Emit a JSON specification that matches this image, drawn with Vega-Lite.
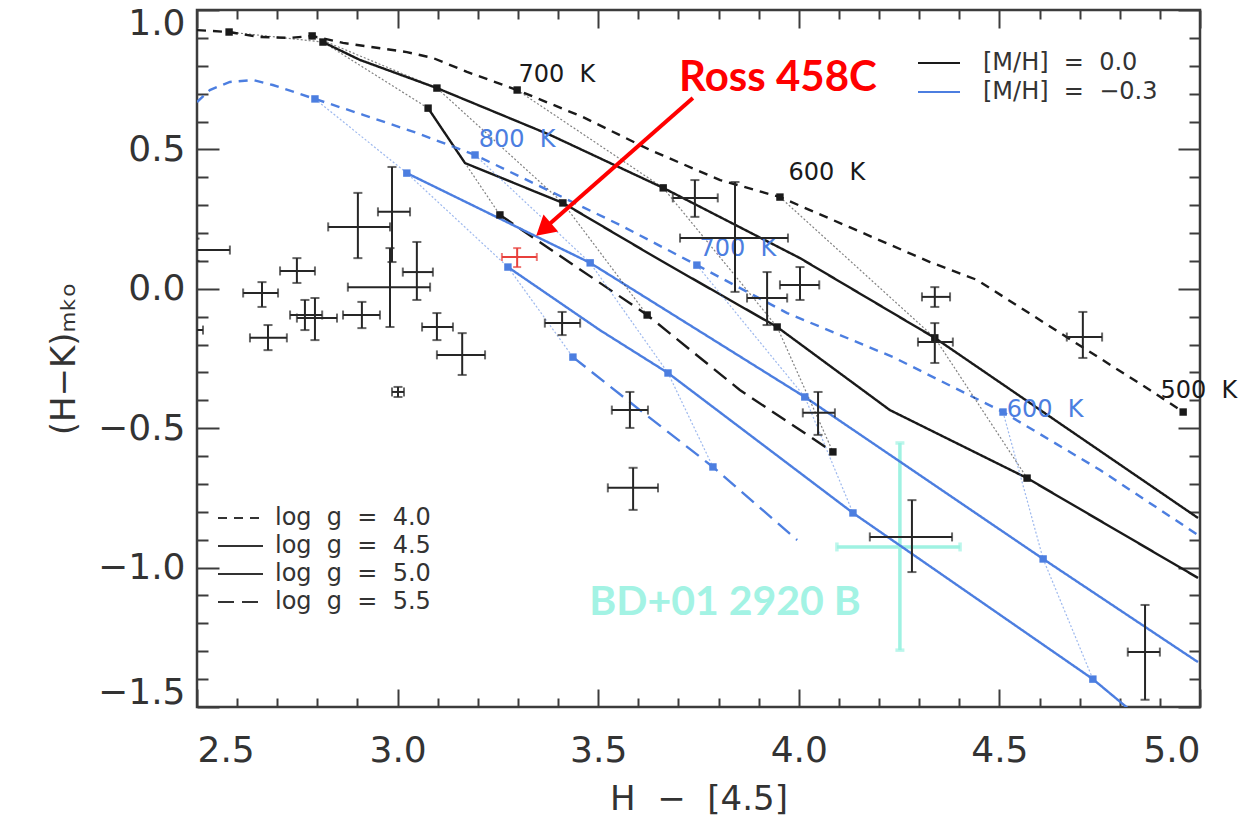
{
  "$schema": "https://vega.github.io/schema/vega-lite/v6.json",
  "width": 1003,
  "height": 697,
  "autosize": {"type": "none"},
  "padding": {"left": 197, "top": 10, "right": 47, "bottom": 118},
  "background": "white",
  "config": {
    "view": {"stroke": "#3c3c3c", "strokeWidth": 2.5},
    "axis": {"grid": false, "domain": false, "tickColor": "#3c3c3c", "tickWidth": 2, "labelFont": "DejaVu Sans", "titleFont": "DejaVu Sans", "labelColor": "#333", "titleColor": "#333", "titleFontWeight": "normal"}
  },
  "resolve": {"axis": {"x": "independent", "y": "independent"}},
  "datasets": {
    "curves": [
      {"mh": "0.0", "g": "4.0", "x": 2.5, "y": 0.928},
      {"mh": "0.0", "g": "4.0", "x": 2.58, "y": 0.921, "T": 900},
      {"mh": "0.0", "g": "4.0", "x": 2.657, "y": 0.903},
      {"mh": "0.0", "g": "4.0", "x": 2.732, "y": 0.9},
      {"mh": "0.0", "g": "4.0", "x": 2.787, "y": 0.907, "T": 800},
      {"mh": "0.0", "g": "4.0", "x": 2.864, "y": 0.882},
      {"mh": "0.0", "g": "4.0", "x": 3.023, "y": 0.849},
      {"mh": "0.0", "g": "4.0", "x": 3.088, "y": 0.828},
      {"mh": "0.0", "g": "4.0", "x": 3.173, "y": 0.778},
      {"mh": "0.0", "g": "4.0", "x": 3.298, "y": 0.713, "T": 700},
      {"mh": "0.0", "g": "4.0", "x": 3.462, "y": 0.616},
      {"mh": "0.0", "g": "4.0", "x": 3.629, "y": 0.498},
      {"mh": "0.0", "g": "4.0", "x": 3.804, "y": 0.39},
      {"mh": "0.0", "g": "4.0", "x": 3.953, "y": 0.329, "T": 600},
      {"mh": "0.0", "g": "4.0", "x": 4.128, "y": 0.22},
      {"mh": "0.0", "g": "4.0", "x": 4.327, "y": 0.096},
      {"mh": "0.0", "g": "4.0", "x": 4.444, "y": 0.032},
      {"mh": "0.0", "g": "4.0", "x": 4.651, "y": -0.158},
      {"mh": "0.0", "g": "4.0", "x": 4.875, "y": -0.363},
      {"mh": "0.0", "g": "4.0", "x": 4.958, "y": -0.442, "T": 500},
      {"mh": "0.0", "g": "4.5", "x": 2.814, "y": 0.885, "T": 900},
      {"mh": "0.0", "g": "4.5", "x": 2.906, "y": 0.821},
      {"mh": "0.0", "g": "4.5", "x": 3.098, "y": 0.72, "T": 800},
      {"mh": "0.0", "g": "4.5", "x": 3.38, "y": 0.552},
      {"mh": "0.0", "g": "4.5", "x": 3.662, "y": 0.362, "T": 700},
      {"mh": "0.0", "g": "4.5", "x": 4.003, "y": 0.11},
      {"mh": "0.0", "g": "4.5", "x": 4.339, "y": -0.176, "T": 600},
      {"mh": "0.0", "g": "4.5", "x": 4.995, "y": -0.822},
      {"mh": "0.0", "g": "5.0", "x": 3.076, "y": 0.648, "T": 900},
      {"mh": "0.0", "g": "5.0", "x": 3.168, "y": 0.451},
      {"mh": "0.0", "g": "5.0", "x": 3.412, "y": 0.308, "T": 800},
      {"mh": "0.0", "g": "5.0", "x": 3.654, "y": 0.103},
      {"mh": "0.0", "g": "5.0", "x": 3.946, "y": -0.137, "T": 700},
      {"mh": "0.0", "g": "5.0", "x": 4.227, "y": -0.435},
      {"mh": "0.0", "g": "5.0", "x": 4.569, "y": -0.679, "T": 600},
      {"mh": "0.0", "g": "5.0", "x": 4.995, "y": -1.037},
      {"mh": "0.0", "g": "5.5", "x": 3.255, "y": 0.265, "T": 900},
      {"mh": "0.0", "g": "5.5", "x": 3.622, "y": -0.094, "T": 800},
      {"mh": "0.0", "g": "5.5", "x": 3.853, "y": -0.363},
      {"mh": "0.0", "g": "5.5", "x": 4.085, "y": -0.585, "T": 700},
      {"mh": "−0.3", "g": "4.0", "x": 2.5, "y": 0.67},
      {"mh": "−0.3", "g": "4.0", "x": 2.532, "y": 0.713},
      {"mh": "−0.3", "g": "4.0", "x": 2.582, "y": 0.742},
      {"mh": "−0.3", "g": "4.0", "x": 2.64, "y": 0.749},
      {"mh": "−0.3", "g": "4.0", "x": 2.689, "y": 0.731},
      {"mh": "−0.3", "g": "4.0", "x": 2.794, "y": 0.681, "T": 900},
      {"mh": "−0.3", "g": "4.0", "x": 2.914, "y": 0.624},
      {"mh": "−0.3", "g": "4.0", "x": 3.048, "y": 0.559},
      {"mh": "−0.3", "g": "4.0", "x": 3.193, "y": 0.48, "T": 800},
      {"mh": "−0.3", "g": "4.0", "x": 3.337, "y": 0.38},
      {"mh": "−0.3", "g": "4.0", "x": 3.554, "y": 0.229},
      {"mh": "−0.3", "g": "4.0", "x": 3.746, "y": 0.085, "T": 700},
      {"mh": "−0.3", "g": "4.0", "x": 3.971, "y": -0.087},
      {"mh": "−0.3", "g": "4.0", "x": 4.235, "y": -0.245},
      {"mh": "−0.3", "g": "4.0", "x": 4.509, "y": -0.442, "T": 600},
      {"mh": "−0.3", "g": "4.0", "x": 4.751, "y": -0.65},
      {"mh": "−0.3", "g": "4.0", "x": 4.995, "y": -0.883},
      {"mh": "−0.3", "g": "4.5", "x": 3.023, "y": 0.415, "T": 900},
      {"mh": "−0.3", "g": "4.5", "x": 3.48, "y": 0.093, "T": 800},
      {"mh": "−0.3", "g": "4.5", "x": 4.015, "y": -0.388, "T": 700},
      {"mh": "−0.3", "g": "4.5", "x": 4.609, "y": -0.969, "T": 600},
      {"mh": "−0.3", "g": "4.5", "x": 4.995, "y": -1.339},
      {"mh": "−0.3", "g": "5.0", "x": 3.275, "y": 0.078, "T": 900},
      {"mh": "−0.3", "g": "5.0", "x": 3.504, "y": -0.148},
      {"mh": "−0.3", "g": "5.0", "x": 3.674, "y": -0.302, "T": 800},
      {"mh": "−0.3", "g": "5.0", "x": 4.135, "y": -0.804, "T": 700},
      {"mh": "−0.3", "g": "5.0", "x": 4.733, "y": -1.4, "T": 600},
      {"mh": "−0.3", "g": "5.0", "x": 4.85, "y": -1.54},
      {"mh": "−0.3", "g": "5.5", "x": 3.437, "y": -0.245, "T": 900},
      {"mh": "−0.3", "g": "5.5", "x": 3.604, "y": -0.435},
      {"mh": "−0.3", "g": "5.5", "x": 3.786, "y": -0.639, "T": 800},
      {"mh": "−0.3", "g": "5.5", "x": 3.996, "y": -0.901}
    ],
    "stars": [
      {"x": 2.986, "y": 0.276, "xlo": 2.951, "xhi": 3.031, "ylo": 0.096, "yhi": 0.437},
      {"x": 2.901, "y": 0.222, "xlo": 2.827, "xhi": 2.981, "ylo": 0.11, "yhi": 0.344},
      {"x": 2.749, "y": 0.064, "xlo": 2.707, "xhi": 2.794, "ylo": 0.021, "yhi": 0.11},
      {"x": 2.662, "y": -0.015, "xlo": 2.615, "xhi": 2.702, "ylo": -0.065, "yhi": 0.024},
      {"x": 2.677, "y": -0.176, "xlo": 2.632, "xhi": 2.724, "ylo": -0.22, "yhi": -0.13},
      {"x": 2.769, "y": -0.094, "xlo": 2.732, "xhi": 2.812, "ylo": -0.148, "yhi": -0.04},
      {"x": 2.794, "y": -0.105, "xlo": 2.749, "xhi": 2.849, "ylo": -0.184, "yhi": -0.033},
      {"x": 2.911, "y": -0.094, "xlo": 2.864, "xhi": 2.956, "ylo": -0.141, "yhi": -0.047},
      {"x": 2.981, "y": 0.006, "xlo": 2.876, "xhi": 3.081, "ylo": -0.137, "yhi": 0.146},
      {"x": 3.048, "y": 0.06, "xlo": 3.013, "xhi": 3.088, "ylo": -0.04, "yhi": 0.168},
      {"x": 3.098, "y": -0.137, "xlo": 3.061, "xhi": 3.138, "ylo": -0.184, "yhi": -0.087},
      {"x": 3.161, "y": -0.237, "xlo": 3.098, "xhi": 3.218, "ylo": -0.309, "yhi": -0.159},
      {"x": 3.001, "y": -0.37, "xlo": 2.986, "xhi": 3.016, "ylo": -0.388, "yhi": -0.352},
      {"x": 3.41, "y": -0.123, "xlo": 3.367, "xhi": 3.455, "ylo": -0.166, "yhi": -0.083},
      {"x": 3.579, "y": -0.435, "xlo": 3.534, "xhi": 3.624, "ylo": -0.499, "yhi": -0.37},
      {"x": 3.587, "y": -0.714, "xlo": 3.524, "xhi": 3.649, "ylo": -0.793, "yhi": -0.642},
      {"x": 3.741, "y": 0.326, "xlo": 3.686, "xhi": 3.798, "ylo": 0.258, "yhi": 0.39},
      {"x": 3.841, "y": 0.182, "xlo": 3.704, "xhi": 3.973, "ylo": -0.011, "yhi": 0.383},
      {"x": 3.921, "y": -0.033, "xlo": 3.871, "xhi": 3.971, "ylo": -0.13, "yhi": 0.06},
      {"x": 4.003, "y": 0.014, "xlo": 3.953, "xhi": 4.051, "ylo": -0.04, "yhi": 0.078},
      {"x": 4.048, "y": -0.445, "xlo": 4.01, "xhi": 4.09, "ylo": -0.524, "yhi": -0.37},
      {"x": 4.282, "y": -0.89, "xlo": 4.177, "xhi": 4.382, "ylo": -1.016, "yhi": -0.758},
      {"x": 4.339, "y": -0.029, "xlo": 4.307, "xhi": 4.377, "ylo": -0.065, "yhi": 0.006},
      {"x": 4.339, "y": -0.191, "xlo": 4.297, "xhi": 4.384, "ylo": -0.266, "yhi": -0.123},
      {"x": 4.708, "y": -0.173, "xlo": 4.668, "xhi": 4.756, "ylo": -0.248, "yhi": -0.083},
      {"x": 4.863, "y": -1.303, "xlo": 4.82, "xhi": 4.9, "ylo": -1.474, "yhi": -1.134},
      {"x": 2.495, "y": 0.139, "xlo": 2.41, "xhi": 2.582, "ylo": 0.1, "yhi": 0.18},
      {"x": 2.47, "y": -0.148, "xlo": 2.4, "xhi": 2.515, "ylo": -0.18, "yhi": -0.12}
    ],
    "comp": [
      {"name": "Ross 458C", "x": 3.298, "y": 0.114, "xlo": 3.26, "xhi": 3.347, "ylo": 0.078, "yhi": 0.146},
      {"name": "BD+01 2920 B", "x": 4.252, "y": -0.926, "xlo": 4.095, "xhi": 4.402, "ylo": -1.296, "yhi": -0.553}
    ],
    "tlabels": [
      {"t": "700\u00a0\u00a0K", "x": 3.397, "y": 0.767, "mh": "0.0"},
      {"t": "600\u00a0\u00a0K", "x": 4.07, "y": 0.415, "mh": "0.0"},
      {"t": "500\u00a0\u00a0K", "x": 4.997, "y": -0.366, "mh": "0.0"},
      {"t": "800\u00a0\u00a0K", "x": 3.298, "y": 0.534, "mh": "−0.3"},
      {"t": "700\u00a0\u00a0K", "x": 3.848, "y": 0.143, "mh": "−0.3"},
      {"t": "600\u00a0\u00a0K", "x": 4.614, "y": -0.435, "mh": "−0.3"}
    ],
    "notes": [
      {"name": "Ross 458C", "x": 3.948, "y": 0.756},
      {"name": "BD+01 2920 B", "x": 3.816, "y": -1.127}
    ],
    "arrow": [
      {"x": 3.736, "y": 0.684, "x2": 3.3637, "y2": 0.2134}
    ]
  },
  "layer": [
    {
      "data": {"name": "comp"},
      "transform": [{"filter": "datum.name === 'BD+01 2920 B'"}],
      "mark": {"type": "errorbar", "ticks": true, "size": 9, "thickness": 3.5, "color": "#9ff2e2"},
      "encoding": {
        "x": {"field": "xlo", "type": "quantitative", "scale": {"domain": [2.5, 5], "nice": false, "zero": false}, "axis": null},
        "x2": {"field": "xhi"},
        "y": {"field": "y", "type": "quantitative", "scale": {"domain": [-1.5, 1], "nice": false, "zero": false}, "axis": null}
      }
    },
    {
      "data": {"name": "comp"},
      "transform": [{"filter": "datum.name === 'BD+01 2920 B'"}],
      "mark": {"type": "errorbar", "ticks": true, "size": 9, "thickness": 3.5, "color": "#9ff2e2"},
      "encoding": {
        "y": {"field": "ylo", "type": "quantitative", "scale": {"domain": [-1.5, 1], "nice": false, "zero": false}, "axis": null},
        "y2": {"field": "yhi"},
        "x": {"field": "x", "type": "quantitative", "scale": {"domain": [2.5, 5], "nice": false, "zero": false}, "axis": null}
      }
    },
    {
      "data": {"name": "curves"},
      "mark": {"type": "line", "strokeWidth": 2.4, "clip": true},
      "encoding": {
        "x": {"field": "x", "type": "quantitative", "scale": {"domain": [2.5, 5], "nice": false, "zero": false},
              "axis": {"orient": "bottom", "values": [2.5, 3, 3.5, 4, 4.5, 5], "format": ".1f", "tickSize": -18, "labelPadding": 44, "labelFontSize": 36, "title": "H\u00a0\u00a0−\u00a0\u00a0[4.5]", "titleFontSize": 34, "titlePadding": 14}},
        "y": {"field": "y", "type": "quantitative", "scale": {"domain": [-1.5, 1], "nice": false, "zero": false},
              "axis": {"orient": "left", "values": [-1.5, -1, -0.5, 0, 0.5, 1], "format": ".1f", "tickSize": -22, "labelPadding": 34, "labelFontSize": 36, "labelFlush": true, "labelFlushOffset": 4, "title": "(H−K)ₘₖₒ", "titleFontSize": 34, "titlePadding": 16}},
        "color": {"field": "mh", "type": "nominal", "scale": {"domain": ["0.0", "−0.3"], "range": ["#1a1a1a", "#4c7ee0"]},
                  "legend": {"orient": "none", "legendX": 714, "legendY": 41, "title": null, "symbolType": "M-1,0H7.4", "symbolSize": 100, "symbolStrokeWidth": 2, "labelExpr": "'[M/H]\u00a0\u00a0=\u00a0\u00a0' + datum.label", "labelFont": "DejaVu Sans", "labelFontSize": 24, "labelColor": "#333", "labelOffset": 48, "labelLimit": 400, "rowPadding": 5}},
        "strokeDash": {"field": "g", "type": "nominal", "scale": {"domain": ["4.0", "4.5", "5.0", "5.5"], "range": [[9, 7], [1, 0], [1, 0], [16, 8]]},
                       "legend": {"orient": "none", "legendX": 14, "legendY": 496, "title": null, "symbolType": "M-1,0H8", "symbolSize": 100, "symbolStrokeWidth": 2, "symbolStrokeColor": "#333", "labelExpr": "'log\u00a0\u00a0g\u00a0\u00a0=\u00a0\u00a0' + datum.label", "labelFont": "DejaVu Sans", "labelFontSize": 24, "labelColor": "#333", "labelOffset": 40, "labelLimit": 400, "rowPadding": 4}},
        "detail": [{"field": "mh"}, {"field": "g"}]
      }
    },
    {
      "data": {"name": "curves"},
      "transform": [{"filter": "isValid(datum.T)"}],
      "mark": {"type": "line", "strokeWidth": 1.2, "strokeDash": [2, 2], "opacity": 0.55, "clip": true},
      "encoding": {
        "x": {"field": "x", "type": "quantitative", "scale": {"domain": [2.5, 5], "nice": false, "zero": false},
              "axis": {"orient": "bottom", "values": [2.6, 2.7, 2.8, 2.9, 3.1, 3.2, 3.3, 3.4, 3.6, 3.7, 3.8, 3.9, 4.1, 4.2, 4.3, 4.4, 4.6, 4.7, 4.8, 4.9], "tickSize": -9, "labels": false, "title": null}},
        "y": {"field": "y", "type": "quantitative", "scale": {"domain": [-1.5, 1], "nice": false, "zero": false},
              "axis": {"orient": "left", "values": [-1.4, -1.3, -1.2, -1.1, -0.9, -0.8, -0.7, -0.6, -0.4, -0.3, -0.2, -0.1, 0.1, 0.2, 0.3, 0.4, 0.6, 0.7, 0.8, 0.9], "tickSize": -11, "labels": false, "title": null}},
        "color": {"condition": {"test": "datum.mh === '0.0'", "value": "#1a1a1a"}, "value": "#4c7ee0"},
        "detail": [{"field": "mh"}, {"field": "T"}],
        "order": {"field": "g", "type": "ordinal"}
      }
    },
    {
      "data": {"name": "curves"},
      "transform": [{"filter": "isValid(datum.T)"}],
      "mark": {"type": "point", "shape": "square", "filled": true, "size": 55, "opacity": 1},
      "encoding": {
        "x": {"field": "x", "type": "quantitative", "scale": {"domain": [2.5, 5], "nice": false, "zero": false},
              "axis": {"orient": "top", "values": [2.5, 3, 3.5, 4, 4.5, 5], "tickSize": -18, "labels": false, "title": null}},
        "y": {"field": "y", "type": "quantitative", "scale": {"domain": [-1.5, 1], "nice": false, "zero": false},
              "axis": {"orient": "right", "values": [-1.5, -1, -0.5, 0, 0.5, 1], "tickSize": -22, "labels": false, "title": null}},
        "color": {"condition": {"test": "datum.mh === '0.0'", "value": "#1a1a1a"}, "value": "#4c7ee0"}
      }
    },
    {
      "data": {"name": "tlabels"},
      "mark": {"type": "text", "font": "DejaVu Sans", "fontSize": 24, "align": "center", "baseline": "middle"},
      "encoding": {
        "x": {"field": "x", "type": "quantitative", "scale": {"domain": [2.5, 5], "nice": false, "zero": false},
              "axis": {"orient": "top", "values": [2.6, 2.7, 2.8, 2.9, 3.1, 3.2, 3.3, 3.4, 3.6, 3.7, 3.8, 3.9, 4.1, 4.2, 4.3, 4.4, 4.6, 4.7, 4.8, 4.9], "tickSize": -9, "labels": false, "title": null}},
        "y": {"field": "y", "type": "quantitative", "scale": {"domain": [-1.5, 1], "nice": false, "zero": false},
              "axis": {"orient": "right", "values": [-1.4, -1.3, -1.2, -1.1, -0.9, -0.8, -0.7, -0.6, -0.4, -0.3, -0.2, -0.1, 0.1, 0.2, 0.3, 0.4, 0.6, 0.7, 0.8, 0.9], "tickSize": -11, "labels": false, "title": null}},
        "text": {"field": "t"},
        "color": {"condition": {"test": "datum.mh === '0.0'", "value": "#1a1a1a"}, "value": "#4c7ee0"}
      }
    },
    {
      "data": {"name": "stars"},
      "mark": {"type": "errorbar", "ticks": true, "size": 9, "thickness": 2, "color": "#262626", "clip": true},
      "encoding": {
        "x": {"field": "xlo", "type": "quantitative", "scale": {"domain": [2.5, 5], "nice": false, "zero": false}, "axis": null},
        "x2": {"field": "xhi"},
        "y": {"field": "y", "type": "quantitative", "scale": {"domain": [-1.5, 1], "nice": false, "zero": false}, "axis": null}
      }
    },
    {
      "data": {"name": "stars"},
      "mark": {"type": "errorbar", "ticks": true, "size": 9, "thickness": 2, "color": "#262626", "clip": true},
      "encoding": {
        "y": {"field": "ylo", "type": "quantitative", "scale": {"domain": [-1.5, 1], "nice": false, "zero": false}, "axis": null},
        "y2": {"field": "yhi"},
        "x": {"field": "x", "type": "quantitative", "scale": {"domain": [2.5, 5], "nice": false, "zero": false}, "axis": null}
      }
    },
    {
      "data": {"name": "comp"},
      "transform": [{"filter": "datum.name === 'Ross 458C'"}],
      "mark": {"type": "errorbar", "ticks": true, "size": 8, "thickness": 2, "color": "#e8403c"},
      "encoding": {
        "x": {"field": "xlo", "type": "quantitative", "scale": {"domain": [2.5, 5], "nice": false, "zero": false}, "axis": null},
        "x2": {"field": "xhi"},
        "y": {"field": "y", "type": "quantitative", "scale": {"domain": [-1.5, 1], "nice": false, "zero": false}, "axis": null}
      }
    },
    {
      "data": {"name": "comp"},
      "transform": [{"filter": "datum.name === 'Ross 458C'"}],
      "mark": {"type": "errorbar", "ticks": true, "size": 8, "thickness": 2, "color": "#e8403c"},
      "encoding": {
        "y": {"field": "ylo", "type": "quantitative", "scale": {"domain": [-1.5, 1], "nice": false, "zero": false}, "axis": null},
        "y2": {"field": "yhi"},
        "x": {"field": "x", "type": "quantitative", "scale": {"domain": [2.5, 5], "nice": false, "zero": false}, "axis": null}
      }
    },
    {
      "data": {"name": "arrow"},
      "mark": {"type": "rule", "color": "#ff0000", "strokeWidth": 4},
      "encoding": {
        "x": {"field": "x", "type": "quantitative", "scale": {"domain": [2.5, 5], "nice": false, "zero": false}, "axis": null},
        "y": {"field": "y", "type": "quantitative", "scale": {"domain": [-1.5, 1], "nice": false, "zero": false}, "axis": null},
        "x2": {"field": "x2"},
        "y2": {"field": "y2"}
      }
    },
    {
      "data": {"name": "arrow"},
      "mark": {"type": "point", "shape": "triangle-up", "filled": true, "color": "#ff0000", "size": 500, "angle": 229, "opacity": 1},
      "encoding": {
        "x": {"field": "x2", "type": "quantitative", "scale": {"domain": [2.5, 5], "nice": false, "zero": false}, "axis": null},
        "y": {"field": "y2", "type": "quantitative", "scale": {"domain": [-1.5, 1], "nice": false, "zero": false}, "axis": null}
      }
    },
    {
      "data": {"name": "notes"},
      "transform": [{"filter": "datum.name === 'Ross 458C'"}],
      "mark": {"type": "text", "font": "Lato", "fontWeight": "bold", "fontSize": 42, "color": "#ff0000", "align": "center", "baseline": "middle"},
      "encoding": {
        "x": {"field": "x", "type": "quantitative", "scale": {"domain": [2.5, 5], "nice": false, "zero": false}, "axis": null},
        "y": {"field": "y", "type": "quantitative", "scale": {"domain": [-1.5, 1], "nice": false, "zero": false}, "axis": null},
        "text": {"field": "name"}
      }
    },
    {
      "data": {"name": "notes"},
      "transform": [{"filter": "datum.name === 'BD+01 2920 B'"}],
      "mark": {"type": "text", "font": "Lato", "fontWeight": "bold", "fontSize": 41, "color": "#a3f3e4", "align": "center", "baseline": "middle"},
      "encoding": {
        "x": {"field": "x", "type": "quantitative", "scale": {"domain": [2.5, 5], "nice": false, "zero": false}, "axis": null},
        "y": {"field": "y", "type": "quantitative", "scale": {"domain": [-1.5, 1], "nice": false, "zero": false}, "axis": null},
        "text": {"field": "name"}
      }
    }
  ]
}
